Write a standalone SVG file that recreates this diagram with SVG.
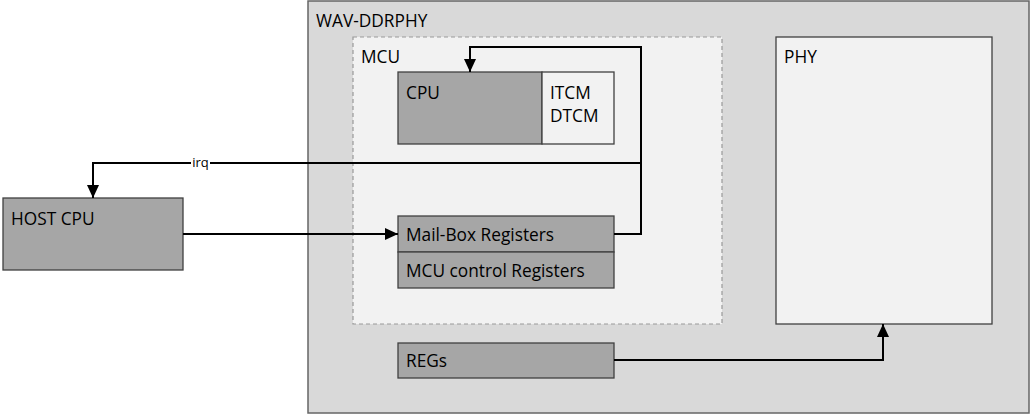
<svg xmlns="http://www.w3.org/2000/svg" width="1031" height="415" viewBox="0 0 1031 415">
<style>
.box{stroke:#404040;stroke-width:1.3}
.dark{fill:#a6a6a6}
.light{fill:#f2f2f2}
.t{font-family:"Open Sans","Liberation Sans",sans-serif;font-size:17.3px;fill:#000}
.conn{fill:none;stroke:#000;stroke-width:2}
</style>
<defs>
<marker id="ah" viewBox="0 0 13 12" refX="13" refY="6" markerWidth="13" markerHeight="12" markerUnits="userSpaceOnUse" orient="auto">
<path d="M0,0 L13,6 L0,12 z" fill="#000"/>
</marker>
</defs>
<rect width="1031" height="415" fill="#fff"/>
<g id="wav-ddrphy">
<rect x="308" y="1" width="721" height="412" fill="#d9d9d9" stroke="#666" stroke-width="1.5"/>
<text class="t" x="316" y="27">WAV-DDRPHY</text>
</g>
<g id="mcu">
<rect x="353" y="37" width="369" height="287" fill="#f2f2f2" stroke="#999" stroke-width="1.2" stroke-dasharray="4,3"/>
<text class="t" x="361" y="63">MCU</text>
</g>
<g id="cpu">
<rect class="box dark" x="398" y="72" width="144" height="72"/>
<text class="t" x="406" y="99">CPU</text>
</g>
<g id="tcm">
<rect class="box light" x="542" y="72" width="72" height="72"/>
<text class="t" x="550" y="99">ITCM</text>
<text class="t" x="550" y="122">DTCM</text>
</g>
<g id="mailbox">
<rect class="box dark" x="398" y="216" width="216" height="36"/>
<text class="t" x="406" y="241">Mail-Box Registers</text>
</g>
<g id="mcu-ctrl">
<rect class="box dark" x="398" y="252" width="216" height="36"/>
<text class="t" x="406" y="277">MCU control Registers</text>
</g>
<g id="regs">
<rect class="box dark" x="398" y="343" width="216" height="35"/>
<text class="t" x="406" y="367">REGs</text>
</g>
<g id="phy">
<rect class="box light" x="776" y="37" width="216" height="287"/>
<text class="t" x="784" y="63">PHY</text>
</g>
<g id="host-cpu">
<rect class="box dark" x="3" y="198" width="180" height="72"/>
<text class="t" x="11" y="225">HOST CPU</text>
</g>
<g id="connectors">
<path class="conn" d="M614,234 H641 V47 H470 V72" marker-end="url(#ah)"/>
<path class="conn" d="M641,163 H93 V198" marker-end="url(#ah)"/>
<rect x="191" y="155" width="19" height="15" fill="#fff"/>
<text x="200.5" y="167" text-anchor="middle" font-family="Open Sans, Liberation Sans, sans-serif" font-size="13" fill="#000">irq</text>
<path class="conn" d="M183,234 H398" marker-end="url(#ah)"/>
<path class="conn" d="M614,360 H883 V324" marker-end="url(#ah)"/>
</g>
</svg>
